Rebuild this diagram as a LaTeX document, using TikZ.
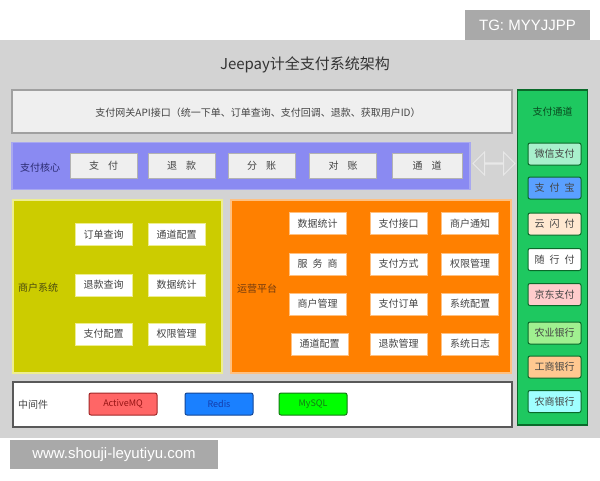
\documentclass[tikz,border=0pt]{standalone}
\usepackage{fontspec}
\setmainfont{Noto Sans CJK SC}
\newfontfamily\wmfont{Liberation Sans}
\usetikzlibrary{shapes.arrows}
\definecolor{bggray}{HTML}{D3D3D3}
\definecolor{apifill}{HTML}{EFEFEF}
\definecolor{apiline}{HTML}{A0A0A0}
\definecolor{corefill}{HTML}{8A8AF2}
\definecolor{coreline}{HTML}{A8A8F0}
\definecolor{coretext}{HTML}{2A2A70}
\definecolor{merfill}{HTML}{CCCC00}
\definecolor{merline}{HTML}{EEEE90}
\definecolor{mertext}{HTML}{4A4A10}
\definecolor{opfill}{HTML}{FF8000}
\definecolor{opline}{HTML}{FFC080}
\definecolor{optext}{HTML}{703A10}
\definecolor{chfill}{HTML}{1EC860}
\definecolor{chline}{HTML}{0A6A2A}
\definecolor{chtext}{HTML}{0A4A20}
\definecolor{txt}{HTML}{444444}
\definecolor{wmgray}{HTML}{A9A9A9}
\definecolor{arrline}{HTML}{E8E8E8}
\definecolor{wxfill}{HTML}{A8F0CC}
\definecolor{zfbfill}{HTML}{5AA0FF}
\definecolor{ysffill}{HTML}{FFE8D0}
\definecolor{jdfill}{HTML}{FFCCCC}
\definecolor{nyfill}{HTML}{A0F090}
\definecolor{gsfill}{HTML}{FFC890}
\definecolor{nsfill}{HTML}{A0FFFF}
\definecolor{mqfill}{HTML}{FF6666}
\definecolor{mqline}{HTML}{A02828}
\definecolor{mqtext}{HTML}{961414}
\definecolor{rdfill}{HTML}{1A80FF}
\definecolor{rdline}{HTML}{144696}
\definecolor{rdtext}{HTML}{143CAA}
\definecolor{msfill}{HTML}{00FF00}
\definecolor{msline}{HTML}{147814}
\tikzset{
  region/.style={draw, line width=1.2pt},
  cell/.style={draw=#1, fill=white, line width=0.6pt, minimum width=57pt, minimum height=22pt, inner sep=0pt, font=\fontsize{10}{12}\selectfont, text=txt},
  corecell/.style={draw=gray!60, fill=apifill, line width=0.6pt, minimum width=67pt, minimum height=25pt, inner sep=0pt, font=\fontsize{10}{12}\selectfont, text=txt},
  chcell/.style={draw=chline, fill=#1, line width=1pt, rounded corners=2pt, minimum width=53pt, minimum height=22pt, inner sep=0pt, font=\fontsize{10}{12}\selectfont, text=txt},
  mwcell/.style={draw=#1, line width=1pt, rounded corners=2pt, minimum width=68pt, minimum height=22pt, inner sep=0pt, font=\fontsize{9}{11}\selectfont},
  lbl/.style={font=\fontsize{10}{12}\selectfont, inner sep=0pt},
  wm/.style={fill=wmgray, text=white, inner sep=0pt, font=\wmfont\fontsize{15}{18}\selectfont}
}
\begin{document}
\begin{tikzpicture}[x=1pt,y=-1pt]
\useasboundingbox (0,0) rectangle (600,480);
\fill[white] (0,0) rectangle (600,480);
% gray background
\fill[bggray] (0,40) rectangle (600,438);
% watermarks
\node[wm, minimum width=125pt, minimum height=30pt] (tg) at (527.5,25) {TG: MYYJJPP};
\node[wm, minimum width=208pt, minimum height=29pt] (www) at (114,454.5) {www.shouji-leyutiyu.com};
% title
\node[font=\fontsize{15}{18}\selectfont, text=black!80, inner sep=0pt] (title) at (305,65) {Jeepay计全支付系统架构};
% API gateway
\node[region, draw=apiline, fill=apifill, minimum width=500pt, minimum height=43pt, inner sep=0pt] (api) at (262,111.5) {};
\node[lbl, text=txt] (apit) at (258,113) {支付网关API接口（统一下单、订单查询、支付回调、退款、获取用户ID）};
% payment core
\node[region, draw=coreline, fill=corefill, minimum width=458pt, minimum height=47pt, inner sep=0pt] (core) at (241,166) {};
\node[lbl, text=coretext] (corel) at (40,168) {支付核心};
\node[corecell] (c1) at (103.5,165.5) {支\hspace{9pt}付};
\node[corecell] (c2) at (181.5,165.5) {退\hspace{9pt}款};
\node[corecell] (c3) at (261.5,165.5) {分\hspace{9pt}账};
\node[corecell] (c4) at (343,165.5) {对\hspace{9pt}账};
\node[corecell, minimum width=70pt] (c5) at (427,165.5) {通\hspace{9pt}道};
% double arrow
\node[double arrow, draw=arrline, line width=1pt, fill=none, minimum width=23pt, minimum height=42pt, double arrow head extend=7.5pt, inner sep=0pt] (arr) at (494,163.5) {};
% channel column
\node[region, draw=chline, fill=chfill, minimum width=70pt, minimum height=335pt, inner sep=0pt] (ch) at (552.5,257.5) {};
\node[lbl, text=chtext] (chl) at (552.5,112) {支付通道};
\node[chcell=wxfill] (w1) at (554.5,154) {微信支付};
\node[chcell=zfbfill] (w2) at (554.5,188) {支\hspace{5pt}付\hspace{5pt}宝};
\node[chcell=ysffill] (w3) at (554.5,224) {云\hspace{5pt}闪\hspace{5pt}付};
\node[chcell=white] (w4) at (554.5,259.5) {随\hspace{5pt}行\hspace{5pt}付};
\node[chcell=jdfill] (w5) at (554.5,294.5) {京东支付};
\node[chcell=nyfill] (w6) at (554.5,333) {农业银行};
\node[chcell=gsfill] (w7) at (554.5,367) {工商银行};
\node[chcell=nsfill] (w8) at (554.5,401.5) {农商银行};
% merchant system
\node[region, draw=merline, fill=merfill, minimum width=209pt, minimum height=173pt, inner sep=0pt] (mer) at (117.5,286.5) {};
\node[lbl, text=mertext] (merl) at (38,288) {商户系统};
\node[cell=merline] (m1) at (103.5,234.5) {订单查询};
\node[cell=merline] (m2) at (176.5,234.5) {通道配置};
\node[cell=merline] (m3) at (103.5,285) {退款查询};
\node[cell=merline] (m4) at (176.5,285) {数据统计};
\node[cell=merline] (m5) at (103.5,334) {支付配置};
\node[cell=merline] (m6) at (176.5,334) {权限管理};
% operation platform
\node[region, draw=opline, fill=opfill, minimum width=280pt, minimum height=173pt, inner sep=0pt] (op) at (371,286.5) {};
\node[lbl, text=optext] (opl) at (257,289) {运营平台};
\node[cell=opline] (o1) at (317.5,223.5) {数据统计};
\node[cell=opline] (o2) at (398.5,223.5) {支付接口};
\node[cell=opline] (o3) at (470,223.5) {商户通知};
\node[cell=opline] (o4) at (317.5,264) {服\hspace{5pt}务\hspace{5pt}商};
\node[cell=opline] (o5) at (398.5,264) {支付方式};
\node[cell=opline] (o6) at (470,264) {权限管理};
\node[cell=opline] (o7) at (317.5,304) {商户管理};
\node[cell=opline] (o8) at (398.5,304) {支付订单};
\node[cell=opline] (o9) at (470,304) {系统配置};
\node[cell=opline] (o10) at (319.5,344) {通道配置};
\node[cell=opline] (o11) at (398.5,344) {退款管理};
\node[cell=opline] (o12) at (470,344) {系统日志};
% middleware
\node[region, draw=gray!70!black, fill=white, minimum width=499pt, minimum height=45pt, inner sep=0pt] (mw) at (262.5,404.5) {};
\node[lbl, text=txt] (mwl) at (33,405) {中间件};
\node[mwcell=mqline, fill=mqfill, text=mqtext] (mq) at (123,404) {ActiveMQ};
\node[mwcell=rdline, fill=rdfill, text=rdtext] (rd) at (219,404) {Redis};
\node[mwcell=msline, fill=msfill, text=msline] (ms) at (313,404) {MySQL};
\end{tikzpicture}
\end{document}
